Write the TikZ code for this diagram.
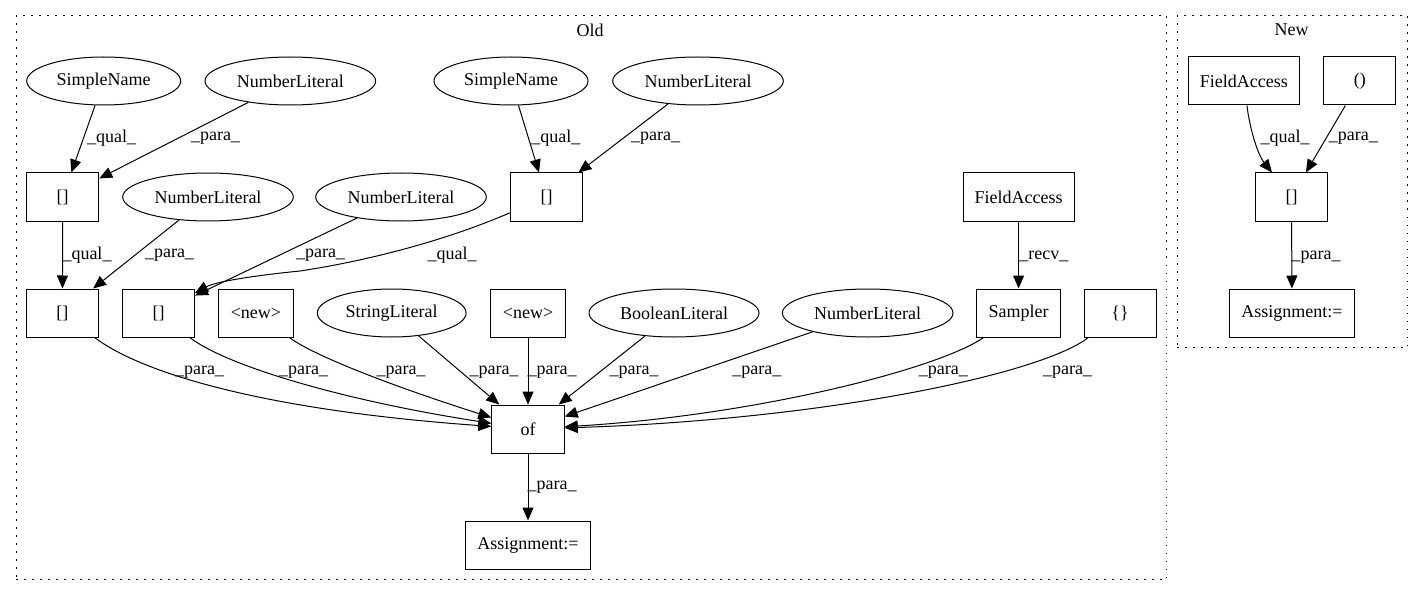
\documentclass[tikz,border=0pt]{standalone}
\usepackage{fontspec}
\setmainfont{Liberation Serif}
\usetikzlibrary{shapes.geometric,arrows.meta}
\begin{document}
\begin{tikzpicture}[x=1pt,y=-1pt,
  every node/.style={font=\fontsize{18}{21}\selectfont},
  box/.style={draw,line width=1pt,rectangle,minimum height=48pt,inner sep=0pt},
  ell/.style={draw,line width=1pt,ellipse,minimum height=48pt,inner sep=0pt},
  lbl/.style={inner sep=0pt},
  edge/.style={line width=1pt,-{Triangle[length=13pt,width=11pt]}},
  cluster/.style={draw,line width=1pt,dash pattern=on 1.5pt off 6.5pt,rectangle,inner sep=0pt}
]
\useasboundingbox (0,0) rectangle (1423,596);

% clusters
\node[cluster,minimum width=1150.7pt,minimum height=563.3pt] (old) at (591.35,297.65) {};
\node[lbl] (oldlbl) at (590,30) {Old};
\node[cluster,minimum width=230.3pt,minimum height=332pt] (new) at (1292.15,181.7) {};
\node[lbl] (newlbl) at (1291.7,30) {New};

% Old: row 1
\node[ell,minimum width=154pt] (sn1) at (103.7,81) {SimpleName};
\node[ell,minimum width=170.6pt] (nl1) at (290.3,81) {NumberLiteral};
\node[ell,minimum width=154pt] (sn2) at (511,81) {SimpleName};
\node[ell,minimum width=170.6pt] (nl4) at (698,81) {NumberLiteral};
% row 2
\node[box,minimum width=72pt] (b1) at (62.7,197) {[]};
\node[ell,minimum width=170.6pt] (nl2) at (208,197) {NumberLiteral};
\node[ell,minimum width=170.6pt] (nl3) at (401,197) {NumberLiteral};
\node[box,minimum width=72pt] (b4) at (546.5,197) {[]};
\node[box,minimum width=111pt] (fa) at (1018.6,197) {FieldAccess};
% row 3
\node[box,minimum width=72pt] (b2) at (62.4,313) {[]};
\node[box,minimum width=72pt] (b3) at (158.5,313) {[]};
\node[box,minimum width=74.7pt] (new1) at (255.9,313) {<new>};
\node[ell,minimum width=148.8pt] (sl) at (391.7,313) {StringLiteral};
\node[box,minimum width=74.7pt] (new2) at (528,313) {<new>};
\node[ell,minimum width=170pt] (bl) at (674,313) {BooleanLiteral};
\node[ell,minimum width=170.6pt] (nl5) at (867.7,313) {NumberLiteral};
\node[box,minimum width=83.4pt] (samp) at (1018.6,313) {Sampler};
\node[box,minimum width=72pt] (cb) at (1120,313) {\{\}};
% row 4, 5
\node[box,minimum width=72.3pt] (of) at (528,429) {of};
\node[box,minimum width=125.4pt] (asg) at (528,545) {Assignment:=};

% New
\node[box,minimum width=111pt] (nfa) at (1243.8,81) {FieldAccess};
\node[box,minimum width=72pt] (npar) at (1359.8,81) {()};
\node[box,minimum width=72pt] (nb) at (1291.5,197) {[]};
\node[box,minimum width=125.4pt] (nasg) at (1292,313) {Assignment:=};

% Old edges
\draw[edge] (sn1) -- (b1);
\draw[edge] (nl1) -- (b1);
\draw[edge] (b1) -- (b2);
\draw[edge] (nl2) -- (b2);
\draw[edge] (nl3) -- (b3);
\draw[edge] (b4) .. controls (440,243) and (360,262) .. (300,271) .. controls (250,276) and (215,282) .. (b3);
\draw[edge] (sn2) -- (b4);
\draw[edge] (nl4) -- (b4);
\draw[edge] (fa) -- (samp);
\draw[edge] (b2) .. controls (140,372) and (260,410) .. (of);
\draw[edge] (b3) .. controls (225,365) and (340,400) .. (of);
\draw[edge] (new1) .. controls (320,360) and (420,395) .. (of);
\draw[edge] (sl) -- (of);
\draw[edge] (new2) -- (of);
\draw[edge] (bl) -- (of);
\draw[edge] (nl5) -- (of);
\draw[edge] (samp) .. controls (940,368) and (760,415) .. (of);
\draw[edge] (cb) .. controls (1040,375) and (820,420) .. (of);
\draw[edge] (of) -- (asg);

% New edges
\draw[edge] (nfa) .. controls (1250,130) and (1258,155) .. (nb);
\draw[edge] (npar) -- (nb);
\draw[edge] (nb) -- (nasg);

% edge labels
\node[lbl] (l1) at (111.7,138) {\_qual\_};
\node[lbl] (l2) at (215.5,138) {\_para\_};
\node[lbl] (l3) at (555.8,138) {\_qual\_};
\node[lbl] (l4) at (655.5,138) {\_para\_};
\node[lbl] (l5) at (87,255) {\_qual\_};
\node[lbl] (l6) at (169.5,255) {\_para\_};
\node[lbl] (l7) at (320.5,255) {\_para\_};
\node[lbl] (l8) at (452,255) {\_qual\_};
\node[lbl] (l9) at (1043.8,256.7) {\_recv\_};
\node[lbl] (l10) at (199.7,372) {\_para\_};
\node[lbl] (l11) at (303.7,372) {\_para\_};
\node[lbl] (l12) at (401,372) {\_para\_};
\node[lbl] (l13) at (494,372) {\_para\_};
\node[lbl] (l14) at (552,372) {\_para\_};
\node[lbl] (l15) at (634,372) {\_para\_};
\node[lbl] (l16) at (756.8,372) {\_para\_};
\node[lbl] (l17) at (943.3,372) {\_para\_};
\node[lbl] (l18) at (1067.5,372) {\_para\_};
\node[lbl] (l19) at (552,486.7) {\_para\_};
\node[lbl] (l20) at (1285,138) {\_qual\_};
\node[lbl] (l21) at (1353.3,138) {\_para\_};
\node[lbl] (l22) at (1316,256.7) {\_para\_};
\end{tikzpicture}
\end{document}
